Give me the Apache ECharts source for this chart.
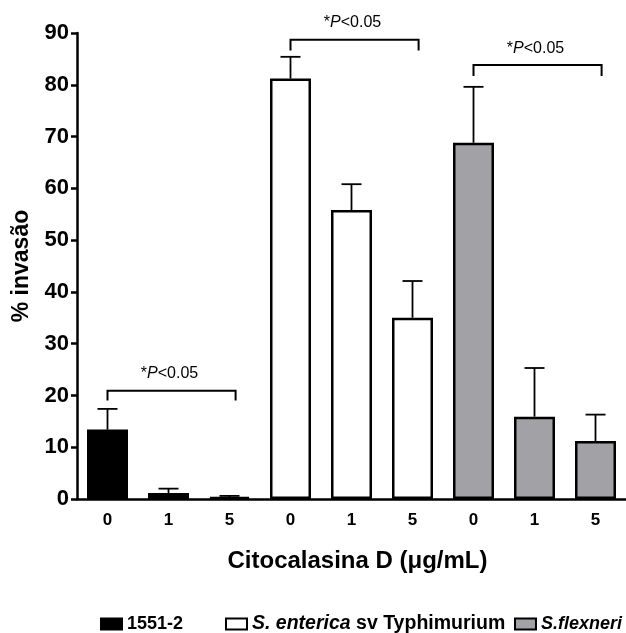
<!DOCTYPE html>
<html>
<head>
<meta charset="utf-8">
<script src="https://cdn.jsdelivr.net/npm/echarts@6/dist/echarts.min.js"></script>
<style>html,body{margin:0;padding:0;background:#fff;}#c{width:626px;height:633px;}</style>
</head>
<body>
<div id="c"></div>
<script>
// ---- data ----
var categories = ['A0','A1','A5','B0','B1','B5','C0','C1','C5'];
var tickLabels = ['0','1','5','0','1','5','0','1','5'];
var seriesNames = ['1551-2', 'S. enterica sv Typhimurium', 'S.flexneri'];
var strainA = [13.4, 1.15, 0.35, null, null, null, null, null, null];
var strainB = [null, null, null, 81.2, 55.8, 35.0, null, null, null];
var strainC = [null, null, null, null, null, null, 68.8, 15.9, 11.2];
var errTop  = [17.4, 2.0, 0.6, 85.4, 60.8, 42.1, 79.6, 25.3, 16.3];
var means   = [13.4, 1.15, 0.35, 81.2, 55.8, 35.0, 68.8, 15.9, 11.2];
var bracketStart = [0, 3, 6];
var bracketEnd   = [2, 5, 8];
var bracketY     = [20.9, 88.7, 83.8];
var bracketDrop  = [19.0, 86.6, 81.7];
var bracketText  = ['*{i|P}<0.05', '*{i|P}<0.05', '*{i|P}<0.05'];

var FONT = 'Liberation Sans, Arial, sans-serif';
var chart = echarts.init(document.getElementById('c'));

var errData = means.map(function (m, i) { return [i, m, errTop[i]]; });
var brData = bracketStart.map(function (s, i) { return [s, bracketEnd[i], bracketY[i], bracketDrop[i], i]; });

function barSeries(name, data, color) {
  return {
    type: 'bar', name: name, data: data, barWidth: 41, barGap: '-100%',
    itemStyle: { color: color, borderColor: '#000', borderWidth: 2.5 },
    z: 2
  };
}

function makeLegend(left, top, name, size) {
  return {
    orient: 'horizontal', top: top, left: left, padding: 0, icon: 'rect', itemWidth: 21, itemHeight: 11,
    data: [name],
    textStyle: { fontFamily: FONT, fontWeight: 'bold', fontSize: size, color: '#000',
      rich: { i: { fontFamily: FONT, fontWeight: 'bold', fontStyle: 'italic', fontSize: size, color: '#000' } } },
    itemStyle: { borderColor: '#000', borderWidth: 2 },
    formatter: function (n) {
      if (n === 'S. enterica sv Typhimurium') return '{i|S. enterica} sv Typhimurium';
      if (n === 'S.flexneri') return '{i|S.flexneri}';
      return n;
    }
  };
}

chart.setOption({
  animation: false,
  backgroundColor: '#fff',
  grid: { left: 77, top: 33, width: 558, height: 466 },
  legend: [
    makeLegend(100, 615, seriesNames[0], 18),
    makeLegend(225, 614, seriesNames[1], 19.5),
    makeLegend(514, 615, seriesNames[2], 18)
  ],
  xAxis: {
    type: 'category', data: categories,
    axisLine: { lineStyle: { color: '#000', width: 2.5 } },
    axisTick: { show: false },
    axisLabel: { margin: 13, fontFamily: FONT, fontWeight: 'bold', fontSize: 17, color: '#000',
      formatter: function (v, i) { return tickLabels[i]; } },
    name: 'Citocalasina D (\u03bcg/mL)', nameLocation: 'middle', nameGap: 50,
    nameTextStyle: { fontFamily: FONT, fontWeight: 'bold', fontSize: 24, color: '#000', padding: [0, 0, 0, 12] }
  },
  yAxis: {
    type: 'value', min: 0, max: 90, interval: 10,
    splitLine: { show: false },
    axisLine: { show: true, lineStyle: { color: '#000', width: 2.5 } },
    axisTick: { show: true, length: 6, lineStyle: { color: '#000', width: 2.5 } },
    axisLabel: { margin: 8, fontFamily: FONT, fontWeight: 'bold', fontSize: 22, color: '#000' },
    name: '% invas\u00e3o', nameLocation: 'middle', nameGap: 40,
    nameTextStyle: { fontFamily: FONT, fontWeight: 'bold', fontSize: 23, color: '#000' }
  },
  series: [
    barSeries(seriesNames[0], strainA, '#000'),
    barSeries(seriesNames[1], strainB, '#fff'),
    barSeries(seriesNames[2], strainC, '#a2a2a6'),
    {
      type: 'custom', name: 'err', data: errData, z: 3, silent: true,
      renderItem: function (params, api) {
        var p0 = api.coord([api.value(0), api.value(1)]);
        var p1 = api.coord([api.value(0), api.value(2)]);
        var st = { stroke: '#000', lineWidth: 1.8 };
        return { type: 'group', children: [
          { type: 'line', shape: { x1: p0[0], y1: p0[1], x2: p1[0], y2: p1[1] }, style: st },
          { type: 'line', shape: { x1: p1[0] - 10, y1: p1[1], x2: p1[0] + 10, y2: p1[1] }, style: st }
        ] };
      }
    },
    {
      type: 'custom', name: 'brackets', data: brData, z: 4, silent: true, clip: false,
      renderItem: function (params, api) {
        var band = api.size([1, 0])[0];
        var a = api.coord([api.value(0), api.value(2)]);
        var b = api.coord([api.value(1), api.value(2)]);
        var d = api.coord([api.value(0), api.value(3)]);
        var x1 = a[0], x2 = b[0] + band * 0.1, y = a[1], yd = d[1];
        var st = { stroke: '#000', lineWidth: 2, fill: null };
        return { type: 'group', children: [
          { type: 'polyline', shape: { points: [[x1, yd], [x1, y], [x2, y], [x2, yd]] }, style: st },
          { type: 'text', x: (x1 + x2) / 2 - 2, y: y - 17, style: {
              text: bracketText[params.dataIndex], align: 'center', verticalAlign: 'middle',
              fontFamily: FONT, fontSize: 16, fill: '#000',
              rich: { i: { fontFamily: FONT, fontSize: 16, fontStyle: 'italic', fill: '#000' } }
          } }
        ] };
      }
    }
  ]
});
</script>
</body>
</html>
